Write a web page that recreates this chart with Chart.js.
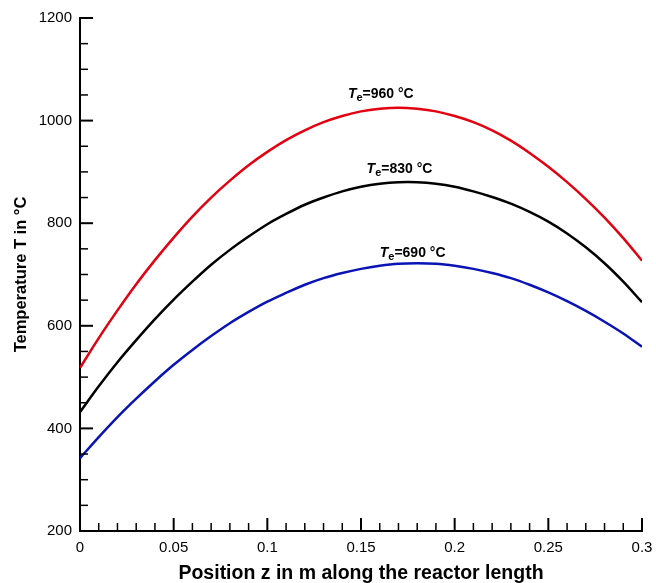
<!DOCTYPE html>
<html>
<head>
<meta charset="utf-8">
<script src="https://cdn.jsdelivr.net/npm/chart.js@4.4.1/dist/chart.umd.min.js"></script>
<style>
  html, body { margin: 0; padding: 0; background: #fff; }
  #wrap { width: 656px; height: 583px; }
</style>
</head>
<body>
<div id="wrap"><canvas id="myChart"></canvas></div>
<script>
// position along reactor (m)
const positions = [0, 0.01, 0.02, 0.03, 0.04, 0.05, 0.06, 0.07, 0.08, 0.09, 0.1,
  0.11, 0.12, 0.13, 0.14, 0.15, 0.16, 0.17, 0.18, 0.19, 0.2,
  0.21, 0.22, 0.23, 0.24, 0.25, 0.26, 0.27, 0.28, 0.29, 0.3];
// temperature profiles (°C) for three wall temperatures
const temp960 = [518, 576, 630, 681, 728, 772, 813, 850, 883, 913, 939,
  962, 981, 997, 1009, 1018, 1023, 1025, 1023, 1018, 1009,
  997, 981, 961, 937, 910, 880, 847, 811, 771, 727];
const temp830 = [432, 482, 529, 572, 613, 651, 686, 719, 748, 774, 798,
  818, 836, 850, 862, 871, 877, 880, 880, 877, 871,
  862, 851, 838, 822, 803, 780, 753, 722, 686, 646];
const temp690 = [342, 383, 422, 458, 492, 524, 553, 580, 605, 627, 647,
  664, 680, 693, 703, 711, 717, 721, 722, 721, 717,
  711, 703, 693, 680, 665, 648, 629, 608, 585, 559];

const seriesNames = ["960", "830", "690"];
const seriesColors = ["#e3000f", "#000000", "#0a14b4"];
// label anchors in data units (z, T)
const labelZ = [0.143, 0.153, 0.160];
const labelT = [1044, 898, 734];

const xTicks = [0, 0.05, 0.1, 0.15, 0.2, 0.25, 0.3];
const yTicks = [200, 400, 600, 800, 1000, 1200];

const toXY = (ys) => ys.map((t, i) => ({ x: positions[i], y: t }));

const FONT = "'Liberation Sans', Arial, Helvetica, sans-serif";

const inwardTicks = {
  id: "inwardTicks",
  afterDraw(chart) {
    const { ctx, chartArea, scales } = chart;
    const xs = scales.x, ys = scales.y;
    ctx.save();
    ctx.strokeStyle = "#000";
    // x ticks every 0.01, major every 0.05
    for (let i = 0; i <= 30; i++) {
      const px = xs.getPixelForValue(i / 100);
      const major = i % 5 === 0;
      ctx.lineWidth = major ? 2 : 1.5;
      ctx.beginPath();
      ctx.moveTo(px, chartArea.bottom);
      ctx.lineTo(px, chartArea.bottom - (major ? 13 : 8));
      ctx.stroke();
    }
    // y ticks every 50, major every 200
    for (let v = 200; v <= 1200; v += 50) {
      const py = ys.getPixelForValue(v);
      const major = v % 200 === 0;
      ctx.lineWidth = major ? 2 : 1.5;
      ctx.beginPath();
      ctx.moveTo(chartArea.left, py);
      ctx.lineTo(chartArea.left + (major ? 13 : 8), py);
      ctx.stroke();
    }
    // curve labels
    ctx.fillStyle = "#000";
    ctx.textBaseline = "alphabetic";
    ctx.textAlign = "left";
    seriesNames.forEach((name, i) => {
      let x = xs.getPixelForValue(labelZ[i]);
      const y = ys.getPixelForValue(labelT[i]);
      ctx.font = "italic bold 14px " + FONT;
      ctx.fillText("T", x, y);
      x += ctx.measureText("T").width;
      ctx.font = "bold 11px " + FONT;
      ctx.fillText("e", x, y + 3);
      x += ctx.measureText("e").width;
      ctx.font = "bold 14px " + FONT;
      ctx.fillText("=" + name + " °C", x, y);
    });
    ctx.restore();
  }
};

const data = {
  datasets: [
    { label: "Te=960 °C", data: toXY(temp960), borderColor: seriesColors[0] },
    { label: "Te=830 °C", data: toXY(temp830), borderColor: seriesColors[1] },
    { label: "Te=690 °C", data: toXY(temp690), borderColor: seriesColors[2] },
  ].map((d) => ({ ...d, borderWidth: 2.5, pointRadius: 0, tension: 0.3, fill: false })),
};

const config = {
  type: "line",
  data: data,
  options: {
    responsive: true,
    maintainAspectRatio: false,
    animation: false,
    layout: { padding: { top: 18, right: 14, left: 0, bottom: 0 } },
    plugins: {
      legend: { display: false },
      tooltip: { enabled: false },
    },
    scales: {
      x: {
        type: "linear",
        min: 0,
        max: 0.3,
        afterFit(scale) {
          scale.height = 52;
          scale.paddingLeft = 0;
          scale.paddingRight = 0;
        },
        afterBuildTicks(scale) { scale.ticks = xTicks.map((v) => ({ value: v })); },
        grid: { display: false, drawTicks: false },
        border: { display: true, color: "#000", width: 2 },
        ticks: {
          padding: 8,
          color: "#000",
          font: { family: FONT, size: 15 },
          maxRotation: 0,
          callback: (v) => String(v),
        },
        title: {
          display: true,
          text: "Position z in m along the reactor length",
          color: "#000",
          font: { family: FONT, size: 19.5, weight: "bold", lineHeight: 1 },
          padding: { top: 0, bottom: 0 },
        },
      },
      y: {
        min: 200,
        max: 1200,
        afterFit(scale) { scale.width = 80; },
        afterBuildTicks(scale) { scale.ticks = yTicks.map((v) => ({ value: v })); },
        grid: { display: false, drawTicks: false },
        border: { display: true, color: "#000", width: 2 },
        ticks: {
          padding: 8,
          color: "#000",
          font: { family: FONT, size: 15 },
          callback: (v) => String(v),
        },
        title: {
          display: true,
          text: "Temperature T in °C",
          color: "#000",
          font: { family: FONT, size: 16.5, weight: "bold" },
          padding: { top: 12, bottom: 0 },
        },
      },
    },
  },
  plugins: [inwardTicks],
};

const ctx = document.getElementById("myChart");
const myChart = new Chart(ctx, config);
</script>
</body>
</html>
